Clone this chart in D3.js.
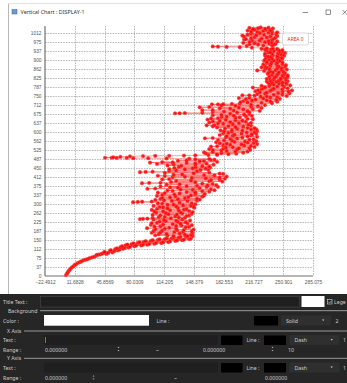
<!DOCTYPE html>
<html>
<head>
<meta charset="utf-8">
<script src="https://cdn.jsdelivr.net/npm/d3@7"></script>
<style>
html, body { margin: 0; padding: 0; background: #fff; }
svg { display: block; font-family: "Noto Sans", "Open Sans", sans-serif; }
</style>
</head>
<body>
<div id="chart"></div>
<script>
// Vertical chart window: depth (y) vs value (x), one red series "AREA 0",
// with the settings panel of the viewer below it.

var xTicks = [-22.4912, 11.6828, 45.8569, 80.0309, 114.205, 148.379, 182.553, 216.727, 250.901, 285.075];
var yTicks = [0, 37.5, 75, 112.5, 150, 187.5, 225, 262.5, 300, 337.5, 375, 412.5, 450, 487.5,
              525, 562.5, 600, 637.5, 675, 712.5, 750, 787.5, 825, 862.5, 900, 937.5, 975, 1012.5];
var yTickLabels = ['0', '37', '75', '112', '150', '187', '225', '262', '300', '337', '375', '412', '450', '487',
                   '525', '562', '600', '637', '675', '712', '750', '787', '825', '862', '900', '937', '975', '1012'];
var seriesName = 'AREA 0';

// [value, depth], bottom to top
var tail = [[1.6,4],[3.5,14],[5.8,26],[8.4,36],[11.5,46],[15,54],[18.6,60],[22,66],[26,70],[30,76],[34,80],
  [37,88],[41,90],[45,97],[48,92],[52,104],[55,98],[58,112],[61,106],[64,120],[67,113],[70,128],[73,119],
  [77,133],[80,124],[84,138],[88,127],[91,142],[95,130],[99,146],[103,134],[107,150],[111,137],[115,153],
  [119,141],[123,157],[127,146],[131,160],[135,149],[139,164],[143,153],[147,166]];
var tailFill = [[2.6,9],[4.6,20],[7,31],[10,40],[13,48],[17,57],[20,62],[24,68],[28,73],[32,78],[36,84],
  [39,89],[43,93],[46,100],[50,96],[53,108],[57,103],[60,115],[63,110],[66,124],[69,117],[72,131],[75,121],
  [79,136],[82,126],[86,141],[90,130],[93,145],[97,133],[101,149],[105,137],[109,153],[113,140],[117,157],
  [121,144],[125,161],[129,148],[133,163],[137,151],[141,166],[145,156]];
var lowerCloud = [[140,165],[118,168],[145,171],[108,174],[132,177],[100,180],[126,183],[146,186],[112,189],
  [137,192],[104,195],[128,198],[94.6,199],[120,201],[143,204],[110,207],[134,210],[99,213],[124,216],
  [141,219],[106,222],[130,225],[116,228],[144,231],[102,234],[86.5,237],[90,238],[95,239],[122,240],
  [138,242],[108,245],[127,248],[143,251],[101,254],[119,257],[135,260],[105,263],[147,266],[113,269],
  [131,272],[100,275],[140,278],[118,281],[149,284],[109,287],[128,290],[145,293],[118,296],[150,299],
  [107,302],[132,305],[78.5,307],[84,308],[89,309],[100,310],[141,312],[114,315],[155,318],[110,321]];
var lowerFill = [[125,166.5],[104,169.5],[138,172.5],[117,175.5],[147,178.5],[110,181.5],[136,184.5],
  [102,187.5],[129,190.5],[148,193.5],[115,196.5],[139,202.5],[103,205.5],[128,208.5],[146,211.5],
  [113,214.5],[133,217.5],[100,220.5],[139,223.5],[109,226.5],[128,229.5],[114,232.5],[135,235.5],
  [101,241.5],[131,243.5],[115,246.5],[140,249.5],[110,252.5],[129,255.5],[146,258.5],[116,261.5],
  [133,264.5],[103,267.5],[143,270.5],[121,273.5],[137,276.5],[106,279.5],[130,282.5],[113,285.5],
  [148,288.5],[102,291.5],[136,294.5],[125,297.5],[112,300.5],[146,303.5],[123,312.5],[152,313.5],
  [104,316.5],[130,319.5]];
var middleCloud = [[138,324],[121,327],[158,330],[106,333],[145,336],[126,339],[161,342],[115,345],[150,348],
  [166,351],[124,354],[172,357],[133,360],[95,363],[104,364],[155,366],[121,369],[176,371],[140,374],
  [164,377],[117,380],[170,383],[88.8,386],[97,387],[110,388],[150,390],[181,393],[128,396],[168,399],
  [112,402],[184,405],[146,408],[124,411],[186,414],[107,417],[160,420],[135,423],[178,426],[115,429],
  [86.5,432],[93,433],[101,434],[152,436],[128,439],[165,442],[120,445],[147,448],[167,451],[131,454],
  [158,457],[118,460],[171,463],[106,466],[150,469],[98,472],[124,473],[175,475],[160,478],[140,481],
  [172,484],[166,487],[143,488],[117,489],[96,490],[78.8,490],[71.3,491],[59.8,491],[54,492],[46.4,492],
  [56,494],[64,496],[75,498],[90,499],[104,500],[120,500],[137,501],[150,502],[165,503],[175,504]];
var middleFill = [[152,322.5],[112,325.5],[142,328.5],[127,331.5],[160,334.5],[112,337.5],[150,340.5],
  [132,343.5],[107,346.5],[140,349.5],[158,352.5],[118,355.5],[147,358.5],[168,361.5],[130,367.5],
  [163,370.5],[110,372.5],[152,375.5],[174,378.5],[132,381.5],[158,384.5],[122,391.5],[166,394.5],
  [145,397.5],[178,400.5],[120,403.5],[162,406.5],[178,409.5],[138,412.5],[115,415.5],[172,418.5],
  [125,421.5],[182,424.5],[148,427.5],[166,430.5],[120,437.5],[156,440.5],[138,443.5],[162,446.5],
  [126,449.5],[150,452.5],[166,455.5],[134,458.5],[150,461.5],[125,464.5],[163,467.5],[140,470.5],
  [112,474],[155,476.5],[130,479.5],[168,482.5],[150,485.5]];
var upperCloud = [[188,507],[162,510],[205,513],[170,516],[196,519],[180,522],[213,525],[166,528],[200,531],
  [185,534],[218,537],[175,540],[206,543],[190,546],[221,549],[178,552],[210,555],[195,558],[220,561],
  [183,564],[212,567],[190,570],[161,573],[170,574],[204,576],[221,579],[186,582],[214,585],[195,588],
  [220,591],[182,594],[209,597],[192,600],[221,603],[179,606],[214,609],[198,612],[218,615],[175,618],
  [205,621],[188,624],[163,627],[172,628],[211,630],[182,633],[200,636],[166,639],[208,642],[178,645],
  [196,648],[164,651],[210,654],[176,657],[201,660],[186,663],[215,666],[170,669],[206,672],[190,675],
  [126.7,677],[132,677],[138,678],[158,679],[212,681],[183,684],[224,687],[158,690],[170,691],[205,693],
  [190,696],[226,699],[155,702],[166,703],[214,705],[196,708],[230,711],[169,714],[176,714],[182,715],
  [192,716],[201,717],[238,719],[210,722],[244,725],[205,728],[232,731],[219,734],[247,737],[200,740],
  [236,743]];
var upperFill = [[175,505.5],[197,508.5],[180,511.5],[160,514.5],[210,517.5],[186,520.5],[170,523.5],
  [198,526.5],[182,529.5],[212,532.5],[193,535.5],[168,538.5],[214,541.5],[182,544.5],[203,547.5],
  [186,550.5],[217,553.5],[174,556.5],[207,559.5],[192,562.5],[176,565.5],[217,568.5],[198,571.5],
  [185,577.5],[210,580.5],[193,583.5],[178,586.5],[215,589.5],[203,592.5],[188,595.5],[218,598.5],
  [183,601.5],[204,604.5],[192,607.5],[220,610.5],[184,613.5],[210,616.5],[196,619.5],[170,622.5],
  [214,625.5],[193,631.5],[176,634.5],[214,637.5],[190,640.5],[170,643.5],[204,646.5],[185,649.5],
  [216,652.5],[168,655.5],[196,658.5],[180,661.5],[208,664.5],[194,667.5],[180,670.5],[212,673.5],
  [198,680],[170,682.5],[210,685.5],[194,688.5],[216,694.5],[178,697.5],[200,700.5],[222,706.5],
  [180,709.5],[214,712.5],[226,720.5],[202,723.5],[236,726.5],[215,729.5],[243,732.5],[208,735.5],
  [228,738.5],[212,741.5]];
var topCloud = [[225,746],[255,749],[204,752],[212,752],[240,754],[221,757],[258,760],[232,763],[250,766],
  [219,769],[261,772],[238,775],[226,778],[256,781],[216,784],[230,785],[252,787],[235,790],[259,793],
  [240,796],[255,799],[234,802],[250,805],[243,808],[256,811],[236,814],[248,817],[232,820],[254,823],
  [241,826],[251,829],[235,832],[256,835],[244,838],[233,841],[253,844],[239,847],[251,850],[229,853],
  [221,855],[242,856],[255,859],[230,862],[249,865],[226,868],[246,871],[236,874],[254,877],[228,880],
  [243,883],[232,886],[250,889],[238,892],[229,895],[247,898],[235,901],[250,904],[231,907],[245,910],
  [233,913],[252,916],[239,919],[248,922],[230,925],[253,928],[236,931],[247,934],[232,937],[250,940],
  [237,943],[226,945],[239,947],[215,950],[201,952],[186,953],[176,954],[170,955],[209,957],[228,958],
  [240,961],[212,964],[235,967],[205,970],[230,973],[244,976],[215,979],[238,982],[208,985],[226,988],
  [242,991],[218,994],[236,997],[204,1000],[229,1003],[243,1006],[214,1009],[234,1012],[221,1015],
  [238,1018],[210,1021],[231,1024],[216,1027],[239,1030],[212,1032],[225,1034]];
var topFill = [[244,744.5],[232,747.5],[218,750.5],[250,755.5],[230,758.5],[245,761.5],[224,764.5],
  [257,767.5],[236,770.5],[222,773.5],[250,776.5],[240,779.5],[228,782.5],[244,788.5],[226,791.5],
  [250,794.5],[236,797.5],[246,800.5],[254,803.5],[238,806.5],[232,809.5],[246,812.5],[254,815.5],
  [240,818.5],[248,821.5],[235,824.5],[256,827.5],[243,830.5],[250,833.5],[238,836.5],[252,839.5],
  [245,842.5],[234,845.5],[246,848.5],[236,851.5],[249,857.5],[235,860.5],[244,863.5],[232,866.5],
  [253,869.5],[230,872.5],[244,875.5],[236,878.5],[250,881.5],[237,884.5],[244,887.5],[232,890.5],
  [246,893.5],[240,896.5],[230,899.5],[244,902.5],[238,905.5],[249,908.5],[236,911.5],[244,914.5],
  [230,917.5],[251,920.5],[238,923.5],[245,926.5],[234,929.5],[250,932.5],[240,935.5],[246,938.5],
  [230,941.5],[244,944.5],[232,948],[238,959.5],[222,962.5],[242,965.5],[218,968.5],[238,971.5],
  [212,974.5],[234,977.5],[224,980.5],[206,983.5],[240,986.5],[214,989.5],[232,992.5],[206,995.5],
  [244,998.5],[220,1001.5],[210,1004.5],[238,1007.5],[224,1010.5],[244,1013.5],[214,1016.5],
  [228,1019.5],[236,1022.5],[218,1025.5],[230,1028.5],[222,1031],[234,1033]];

(function () {
    var W = 347, H = 383;
    var svg = d3.select('#chart').append('svg')
        .attr('width', W).attr('height', H)
        .attr('viewBox', '0 0 ' + W + ' ' + H);

    svg.append('rect').attr('width', W).attr('height', H).attr('fill', '#fff');

    // window frame + title bar
    svg.append('line').attr('x1', 8.5).attr('x2', 8.5).attr('y1', 3).attr('y2', 294)
        .attr('stroke', '#b8b8b8').attr('stroke-width', 1);
    svg.append('line').attr('x1', 8).attr('x2', W).attr('y1', 3.5).attr('y2', 3.5)
        .attr('stroke', '#e2e2e2').attr('stroke-width', 1);
    svg.append('rect').attr('x', 12).attr('y', 9.5).attr('width', 5).attr('height', 4.5)
        .attr('fill', '#6d9bd1').attr('stroke', '#3c5f8a').attr('stroke-width', 0.5);
    svg.append('text').attr('x', 20.5).attr('y', 14)
        .attr('font-size', 5.4).attr('fill', '#333').text('Vertical Chart : DISPLAY-1');
    svg.append('line').attr('x1', 302.5).attr('x2', 308).attr('y1', 12.5).attr('y2', 12.5)
        .attr('stroke', '#444').attr('stroke-width', 0.6);
    svg.append('rect').attr('x', 326).attr('y', 10).attr('width', 4.5).attr('height', 4.5)
        .attr('fill', 'none').attr('stroke', '#444').attr('stroke-width', 0.6);
    svg.append('path').attr('d', 'M342.5,10 L347,14.5 M347,10 L342.5,14.5')
        .attr('stroke', '#444').attr('stroke-width', 0.6);

    // plot
    var x = d3.scaleLinear().domain([xTicks[0], xTicks[xTicks.length - 1]]).range([45, 313]);
    var y = d3.scaleLinear().domain([0, 1040]).range([276, 26]);

    var grid = svg.append('g').attr('stroke', '#9c9c9c').attr('stroke-width', 0.7)
        .attr('stroke-dasharray', '1.6,1');
    grid.selectAll('line.h').data(yTicks.slice(1)).enter().append('line')
        .attr('class', 'h')
        .attr('x1', x.range()[0]).attr('x2', x.range()[1])
        .attr('y1', function (d) { return Math.round(y(d)) + 0.5; })
        .attr('y2', function (d) { return Math.round(y(d)) + 0.5; });
    grid.selectAll('line.v').data(xTicks.slice(1)).enter().append('line')
        .attr('class', 'v')
        .attr('y1', y.range()[1]).attr('y2', y.range()[0])
        .attr('x1', function (d) { return Math.round(x(d)) + 0.5; })
        .attr('x2', function (d) { return Math.round(x(d)) + 0.5; });

    var yAxis = svg.append('g').attr('transform', 'translate(45,0)')
        .call(d3.axisLeft(y).tickValues(yTicks).tickSize(0).tickPadding(3.5)
            .tickFormat(function (d, i) { return yTickLabels[i]; }));
    var xAxis = svg.append('g').attr('transform', 'translate(0,276)')
        .call(d3.axisBottom(x).tickValues(xTicks).tickSize(0).tickPadding(5)
            .tickFormat(d3.format('.6')));
    [xAxis, yAxis].forEach(function (a) {
        a.select('.domain').attr('stroke', '#707070').attr('stroke-width', 1.2);
        a.selectAll('text').attr('font-size', 4.8).attr('fill', '#555').attr('font-family', null);
    });
    xAxis.select('.domain').attr('d', 'M45,0H313');
    yAxis.select('.domain').attr('d', 'M0,26V276');

    // series is drawn in depth order
    var pts = d3.sort(tail.concat(tailFill, lowerCloud, lowerFill, middleCloud, middleFill,
        upperCloud, upperFill, topCloud, topFill), function (d) { return d[1]; });
    var line = d3.line()
        .x(function (d) { return x(d[0]); })
        .y(function (d) { return y(d[1]); });
    svg.append('path').datum(pts)
        .attr('fill', 'none').attr('stroke', '#ff2020')
        .attr('stroke-width', 0.6).attr('stroke-opacity', 0.7)
        .attr('d', line);
    svg.append('g').selectAll('circle').data(pts).enter().append('circle')
        .attr('cx', function (d) { return x(d[0]); })
        .attr('cy', function (d) { return y(d[1]); })
        .attr('r', 1.85)
        .attr('fill', '#ff0000').attr('fill-opacity', 0.88)
        .attr('stroke', '#ff6a6a').attr('stroke-width', 0.35);

    // legend
    svg.append('rect').attr('x', 282.5).attr('y', 33).attr('width', 26).attr('height', 12)
        .attr('rx', 2).attr('fill', '#fff').attr('stroke', '#cfcfcf').attr('stroke-width', 0.8);
    svg.append('text').attr('x', 295.5).attr('y', 40.7).attr('text-anchor', 'middle')
        .attr('font-size', 4.8).attr('fill', '#e02020').text(seriesName);

    // settings panel
    var p = svg.append('g');
    p.append('rect').attr('x', 0).attr('y', 294).attr('width', W).attr('height', H - 294).attr('fill', '#262626');

    function label(tx, lx, ly) {
        p.append('text').attr('x', lx).attr('y', ly).attr('font-size', 5.2)
            .attr('fill', '#cfcfcf').text(tx);
    }
    function box(bx, by, bw, bh, fill, stroke) {
        p.append('rect').attr('x', bx).attr('y', by).attr('width', bw).attr('height', bh)
            .attr('fill', fill).attr('stroke', stroke || 'none').attr('stroke-width', 0.6);
    }
    function group(tx, gx, lineFrom, gy) {
        p.append('line').attr('x1', lineFrom).attr('x2', W).attr('y1', gy).attr('y2', gy)
            .attr('stroke', '#a8a8a8').attr('stroke-width', 0.9);
        label(tx, gx, gy + 1.8);
    }
    function dropdown(dx, dy, tx) {
        box(dx, dy, 50, 10, '#2f2f2f');
        label(tx, dx + 5, dy + 7);
        p.append('path').attr('d', 'M' + (dx + 41) + ',' + (dy + 4) + 'l2.4,0 l-1.2,1.6z').attr('fill', '#cfcfcf');
    }
    function spin(sx, sy) {
        p.append('path').attr('d', 'M' + sx + ',' + (sy - 1.5) + 'l1,-1.3 l1,1.3z M' + sx + ',' + (sy + 0.5) + 'l1,1.3 l1,-1.3z')
            .attr('fill', '#bdbdbd');
    }

    label('Title Text :', 3, 303.5);
    box(40.5, 296.5, 259, 10.5, '#1f1f1f', '#4a4a4a');
    box(301.5, 296, 23, 11, '#fff');
    box(327.5, 299.5, 4.5, 4.5, '#262626', '#d0d0d0');
    p.append('path').attr('d', 'M328.5,301.8 l1.2,1.2 l1.8,-2.2').attr('fill', 'none')
        .attr('stroke', '#e0e0e0').attr('stroke-width', 0.6);
    label('Lege', 334, 303.5);

    group('Background', 8, 40, 310.7);
    label('Color :', 3, 322.7);
    box(44, 315, 105, 10.7, '#fff');
    label('Line :', 156.5, 322.7);
    box(254, 316, 24, 9.5, '#000');
    dropdown(281, 315.5, 'Solid');
    label('2', 335.5, 322.7);

    group('X Axis', 7, 24, 331);
    label('Text :', 3, 342);
    box(44, 335, 174, 10, '#1f1f1f');
    p.append('line').attr('x1', 45.5).attr('x2', 45.5).attr('y1', 337).attr('y2', 343)
        .attr('stroke', '#cfcfcf').attr('stroke-width', 0.5);
    box(221, 335.5, 21.5, 9.5, '#000');
    label('Line :', 246.5, 342);
    box(264, 335.5, 22, 9.5, '#000');
    dropdown(289.5, 335, 'Dash');
    label('1', 343, 342);
    label('Range :', 3, 351.5);
    label('0.000000', 45, 351.5);
    spin(117.5, 349.5);
    label('~', 156, 351.5);
    label('0.000000', 203, 351.5);
    spin(271.5, 349.5);
    label('10', 288, 351.5);

    group('Y Axis', 7, 24, 358.3);
    label('Text :', 3, 369.5);
    box(44, 362.5, 174, 10, '#1f1f1f');
    box(221, 363, 21.5, 9.5, '#000');
    label('Line :', 246.5, 369.5);
    box(264, 363, 22, 9.5, '#000');
    dropdown(289.5, 362.5, 'Dash');
    label('1', 343, 369.5);
    label('Range :', 3, 380);
    label('0.000000', 45, 380);
    spin(92.5, 378);
    label('~', 174, 380);
    label('0.000000', 265, 380);
})();
</script>
</body>
</html>
